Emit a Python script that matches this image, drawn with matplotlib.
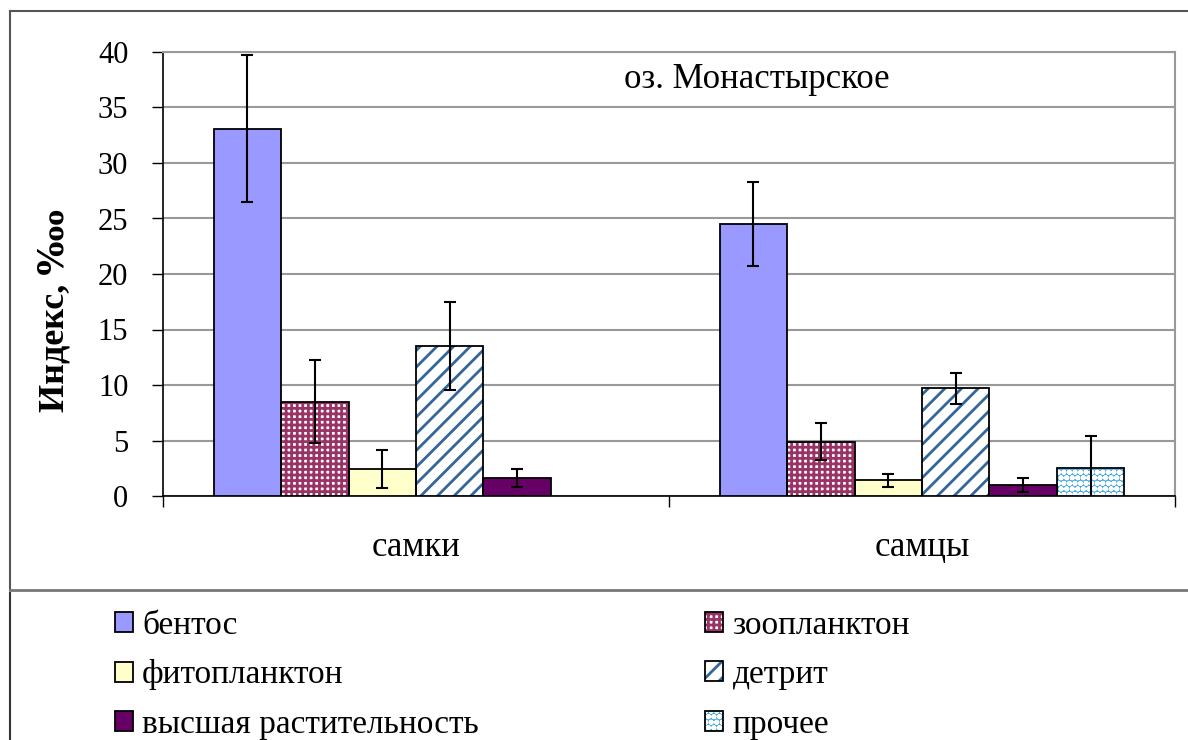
import matplotlib.pyplot as plt
from matplotlib.lines import Line2D
import numpy as np

plt.rcParams["font.family"] = ["Liberation Serif", "DejaVu Serif"]
plt.rcParams["hatch.linewidth"] = 2.0

categories = ["самки", "самцы"]
series = ["бентос", "зоопланктон", "фитопланктон", "детрит",
          "высшая растительность", "прочее"]
values = [
    [33.1, 24.5],   # бентос
    [8.5, 4.9],     # зоопланктон
    [2.4, 1.4],     # фитопланктон
    [13.5, 9.7],    # детрит
    [1.6, 1.0],     # высшая растительность
    [0.0, 2.55],    # прочее
]
errors = [
    [6.6, 3.75],
    [3.75, 1.7],
    [1.7, 0.6],
    [3.95, 1.4],
    [0.8, 0.6],
    [0.0, 2.9],
]

# face colour, hatch, hatch colour
styles = [
    ("#9999FF", None, "#9999FF"),
    ("#FFFFFF", "+++", "#993366"),
    ("#FFFFCC", None, "#FFFFCC"),
    ("#FFFFFF", "//", "#336699"),
    ("#660066", None, "#660066"),
    ("#3FA9E3", "ooo", "#FFFFFF"),
]

fig = plt.figure(figsize=(11.88, 7.40), dpi=100)
ax = fig.add_axes([163 / 1188, 1 - 496 / 740, (1175 - 163) / 1188, (496 - 52) / 740])

x = np.arange(len(categories))
w = 1 / 7.5
handles = []
for i, name in enumerate(series):
    fc, h, hc = styles[i]
    pos = x - 0.4 + w * (i + 0.5)
    vals = np.array(values[i])
    errs = np.array(errors[i])
    show = vals > 0
    b1 = ax.bar(pos[show], vals[show], w, color=fc, hatch=h, edgecolor=hc,
                linewidth=0, zorder=3)
    b2 = ax.bar(pos[show], vals[show], w, fill=False, edgecolor="black",
                linewidth=1.3, zorder=4)
    ax.errorbar(pos[show], vals[show], yerr=errs[show], fmt="none",
                ecolor="black", elinewidth=1.5, capsize=4, capthick=1.5, zorder=5)
    handles.append((b1[0], b2[0]))

ax.set_xlim(-0.5, 1.5)
ax.set_ylim(0, 40)
ax.set_yticks(range(0, 41, 5))
ax.set_xticks(x)
ax.set_xticklabels(categories, fontsize=25)
ax.set_xticks([-0.5, 0.5, 1.5], minor=True)
ax.tick_params(axis="x", which="major", length=0, pad=25)
ax.tick_params(axis="x", which="minor", length=8, width=1, direction="out")
ax.tick_params(axis="y", labelsize=22, length=8, width=1, pad=17)
ax.yaxis.grid(True, color="#999999", linewidth=1.5, zorder=0)
ax.set_axisbelow(True)
for s in ["top", "right"]:
    ax.spines[s].set_color("#999999")
    ax.spines[s].set_linewidth(1.5)
ax.spines["left"].set_linewidth(1.2)
ax.spines["bottom"].set_linewidth(1.2)

ax.set_ylabel("Индекс, ‱", fontsize=26, fontweight="bold")
ax.yaxis.set_label_coords(-0.09, 0.417)
ax.text(0.587, 0.975, "оз. Монастырское", transform=ax.transAxes,
        fontsize=25, ha="center", va="top")

# chart and legend frames
fig.add_artist(Line2D([10 / 1188, 1], [1 - 11 / 740] * 2, color="#555555", lw=1.5))
fig.add_artist(Line2D([10 / 1188] * 2, [1 - 11 / 740, 1 - 590 / 740], color="#555555", lw=1.5))
fig.add_artist(Line2D([10 / 1188, 1], [1 - 590 / 740] * 2, color="#777777", lw=2))
fig.add_artist(Line2D([10 / 1188] * 2, [1 - 593 / 740, 0], color="#333333", lw=1.5))

order = [0, 2, 4, 1, 3, 5]
fig.legend([handles[k] for k in order], [series[k] for k in order],
           loc="upper left", bbox_to_anchor=(85 / 1188, 1 - 580 / 740),
           ncol=2, frameon=False, fontsize=24, handlelength=0.54,
           handleheight=0.54, handletextpad=0.27, columnspacing=6.8,
           labelspacing=0.57)

fig.savefig("out.png", dpi=100)
